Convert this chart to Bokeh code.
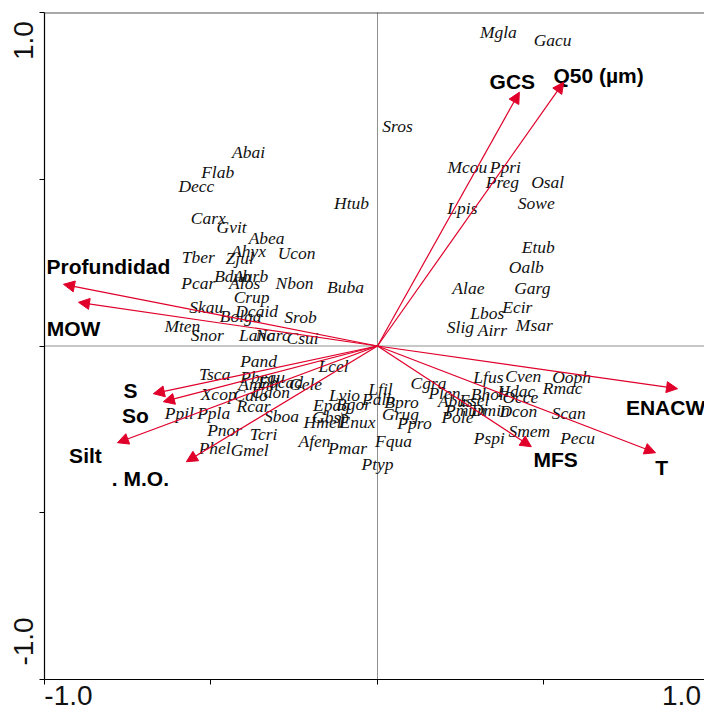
import math
from bokeh.plotting import figure
from bokeh.models import (ColumnDataSource, Arrow, NormalHead, Span, FixedTicker, Range1d)
from bokeh.core.properties import value
from bokeh.embed import file_html
from bokeh.resources import INLINE

# ---- species scores (axis 1, axis 2) ----
species = ["Mgla", "Gacu", "Sros", "Abai", "Flab", "Decc", "Htub", "Mcou", "Ppri", "Preg",
           "Osal", "Sowe", "Lpis", "Etub", "Oalb", "Alae", "Garg", "Ecir", "Lbos", "Slig",
           "Airr", "Msar", "Carx", "Gvit", "Abea", "Ahyx", "Ucon", "Tber", "Zjul", "Bdub",
           "Aurb", "Alos", "Pcar", "Nbon", "Buba", "Crup", "Skau", "Bolga", "Dcaid", "Srob",
           "Mten", "Snor", "Lanc", "Narc", "Csui", "Pand", "Lcel", "Tsca", "Pbeau", "Amml",
           "Ebcad", "Gele", "Xcop", "Calo", "Udon", "Ppil", "Ppla", "Rcar", "Sboa", "Pnor",
           "Tcri", "Phel", "Gmel", "Lvio", "Epag", "Bgor", "Hmel", "Gbsp", "Enux", "Afen",
           "Pmar", "Lfil", "Palb", "Bpro", "Grug", "Ppro", "Fqua", "Ptyp", "Cgra", "Plen",
           "Abus", "Esel", "Pmun", "Dmin", "Pole", "Lfus", "Cven", "Ooph", "Hdac", "Rmac",
           "Bhol", "Occe", "Dcon", "Scan", "Smem", "Pspi", "Pecu"]
sp_x = [0.363, 0.526, 0.060, -0.387, -0.480, -0.544, -0.078, 0.270, 0.384, 0.375,
        0.511, 0.477, 0.255, 0.483, 0.447, 0.273, 0.465, 0.420, 0.330, 0.249,
        0.345, 0.471, -0.508, -0.438, -0.333, -0.387, -0.243, -0.538, -0.414, -0.435,
        -0.381, -0.399, -0.538, -0.249, -0.096, -0.378, -0.514, -0.411, -0.363, -0.231,
        -0.586, -0.511, -0.363, -0.315, -0.225, -0.357, -0.132, -0.489, -0.345, -0.357,
        -0.291, -0.216, -0.477, -0.381, -0.321, -0.595, -0.492, -0.372, -0.288, -0.459,
        -0.342, -0.489, -0.384, -0.099, -0.138, -0.072, -0.165, -0.141, -0.060, -0.189,
        -0.090, 0.009, 0.003, 0.072, 0.069, 0.111, 0.048, 0.000, 0.153, 0.201,
        0.234, 0.291, 0.264, 0.339, 0.240, 0.333, 0.438, 0.583, 0.417, 0.556,
        0.330, 0.429, 0.423, 0.574, 0.456, 0.336, 0.601]
sp_y = [0.941, 0.917, 0.659, 0.581, 0.521, 0.479, 0.428, 0.536, 0.536, 0.491,
        0.491, 0.428, 0.413, 0.296, 0.236, 0.173, 0.173, 0.116, 0.098, 0.056,
        0.047, 0.062, 0.383, 0.356, 0.323, 0.284, 0.278, 0.266, 0.263, 0.209,
        0.209, 0.188, 0.188, 0.188, 0.176, 0.146, 0.116, 0.089, 0.104, 0.086,
        0.059, 0.032, 0.032, 0.032, 0.023, -0.044, -0.059, -0.083, -0.092, -0.113,
        -0.107, -0.113, -0.143, -0.146, -0.137, -0.200, -0.200, -0.179, -0.209, -0.251,
        -0.263, -0.305, -0.311, -0.146, -0.176, -0.173, -0.227, -0.212, -0.227, -0.284,
        -0.305, -0.128, -0.158, -0.167, -0.203, -0.230, -0.284, -0.353, -0.110, -0.140,
        -0.164, -0.161, -0.191, -0.191, -0.212, -0.092, -0.089, -0.092, -0.134, -0.125,
        -0.143, -0.152, -0.194, -0.200, -0.254, -0.275, -0.275]

# ---- environmental variables: arrow tips and label positions ----
variables = ["Profundidad", "MOW", "S", "So", "Silt", ". M.O.", "ENACW", "T", "MFS", "GCS", "Q50 (µm)"]
var_x = [-0.943, -0.898, -0.673, -0.643, -0.781, -0.574, 0.901, 0.835, 0.462, 0.426, 0.559]
var_y = [0.185, 0.131, -0.143, -0.167, -0.290, -0.347, -0.128, -0.320, -0.302, 0.761, 0.791]
lab_x = [-0.808, -0.913, -0.742, -0.727, -0.877, -0.712, 0.865, 0.853, 0.535, 0.405, 0.664]
lab_y = [0.239, 0.053, -0.134, -0.209, -0.329, -0.398, -0.185, -0.365, -0.341, 0.794, 0.812]

# tick marks and the places of the two labelled ticks on each axis
tick_values = [-1.0, -0.5, 0.0, 0.5, 1.0]
x_label_pos = [-0.928, 0.913]
y_label_pos = [-0.886, 0.916]
tick_labels = ["-1.0", "1.0"]

RED = "#e0002a"

p = figure(frame_width=660, frame_height=667,
           x_range=Range1d(-1.0, 0.982), y_range=Range1d(-1.0, 1.0),
           output_backend="svg", toolbar_location=None,
           min_border_left=44, min_border_right=0, min_border_top=12, min_border_bottom=33)
p.grid.visible = False
p.outline_line_color = None
p.background_fill_color = "white"

for ax, lpos in ((p.xaxis[0], x_label_pos), (p.yaxis[0], y_label_pos)):
    ax.ticker = FixedTicker(ticks=lpos, minor_ticks=tick_values)
    ax.major_label_overrides = {v: t for v, t in zip(lpos, tick_labels)}
    ax.major_tick_line_color = None
    ax.major_tick_in = 0
    ax.major_tick_out = 0
    ax.minor_tick_in = 0
    ax.minor_tick_out = 5
    ax.minor_tick_line_color = "black"
    ax.axis_line_color = "black"
    ax.axis_line_width = 1.2
    ax.major_label_text_font = "Liberation Sans"
    ax.major_label_text_font_size = "28px"
    ax.major_label_text_color = "#111111"

p.xaxis[0].major_label_standoff = 1
p.yaxis[0].major_label_standoff = 6
p.yaxis[0].major_label_orientation = "vertical"

# top frame line and zero lines
p.add_layout(Span(location=1.0, dimension="width", line_color="#555555", line_width=2))
p.add_layout(Span(location=0.0, dimension="width", line_color="#222222", line_width=1, line_dash="1 1"))
p.add_layout(Span(location=0.0, dimension="height", line_color="#222222", line_width=1, line_dash="1 1"))

# arrows
arrow_src = ColumnDataSource(dict(x0=[0.0] * len(var_x), y0=[0.0] * len(var_y), x1=var_x, y1=var_y))
p.add_layout(Arrow(source=arrow_src, x_start="x0", y_start="y0", x_end="x1", y_end="y1",
                   line_color=RED, line_width=1.2,
                   end=NormalHead(size=11, fill_color=RED, line_color=RED, line_width=1)))

# species labels
sp_src = ColumnDataSource(dict(x=sp_x, y=sp_y, t=species))
p.text(x="x", y="y", text="t", source=sp_src, text_font=value("Liberation Serif"),
       text_font_style="italic", text_font_size="17.5px", text_align="center",
       text_baseline="middle", text_color="#111111")

# variable labels
var_src = ColumnDataSource(dict(x=lab_x, y=lab_y, t=variables))
p.text(x="x", y="y", text="t", source=var_src, text_font=value("Liberation Sans"),
       text_font_style="bold", text_font_size="21px", text_align="center",
       text_baseline="middle", text_color="black")

open("out.html", "w").write(file_html(p, INLINE))
